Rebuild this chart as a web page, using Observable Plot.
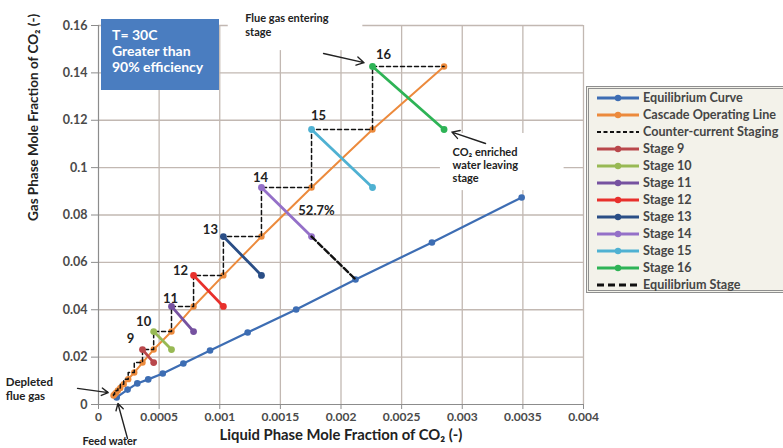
<!DOCTYPE html>
<html>
<head>
<meta charset="utf-8">
<script src="https://cdn.jsdelivr.net/npm/d3@7"></script>
<script src="https://cdn.jsdelivr.net/npm/@observablehq/plot@0.6"></script>
<style>
  html, body { margin: 0; padding: 0; background: #fff; }
  #wrap { position: relative; width: 783px; height: 448px; overflow: hidden; font-family: Lato, "Open Sans", sans-serif; }
  #wrap > svg { position: absolute; left: 0; top: 0; }
  #tbox { position: absolute; left: 101px; top: 19px; width: 118px; height: 71px; background: #4a7dc0; color: #fff;
          font-weight: bold; font-size: 14px; line-height: 16px; box-sizing: border-box; padding: 8px 0 0 11px; }
  #legend { position: absolute; left: 586px; top: 86px; width: 210px; height: 207px; background: #f3f2ea;
            border: 3px double #8f8f8f; box-sizing: border-box; padding: 0 0 0 7px; }
  .li { display: flex; align-items: center; height: 17px; font-size: 12.6px; font-weight: bold; color: #454545; white-space: nowrap; }
  .li svg { margin-right: 3px; flex: none; }
</style>
</head>
<body>
<div id="wrap"></div>
<script>
// ---- data ----
const xTicks = [0, 0.0005, 0.001, 0.0015, 0.002, 0.0025, 0.003, 0.0035, 0.004];
const xTickLabels = ["0", "0.0005", "0.001", "0.0015", "0.002", "0.0025", "0.003", "0.0035", "0.004"];
const yTicks = [0, 0.02, 0.04, 0.06, 0.08, 0.1, 0.12, 0.14, 0.16];
const yTickLabels = ["0", "0.02", "0.04", "0.06", "0.08", "0.1", "0.12", "0.14", "0.16"];

// Equilibrium curve
const eqX = [0.00015, 0.00024, 0.00032, 0.00041, 0.00053, 0.00070, 0.00092, 0.00123, 0.00163, 0.00212, 0.00275, 0.00349];
const eqY = [0.0030, 0.0063, 0.0089, 0.0106, 0.0131, 0.0173, 0.0228, 0.0304, 0.0401, 0.0528, 0.0684, 0.0874];

// Cascade operating line (stage points 0..16)
const opX = [0.000124, 0.000133, 0.000145, 0.000160, 0.000180, 0.000208, 0.000245, 0.000295, 0.000363, 0.000455, 0.000602, 0.000784, 0.00103, 0.001344, 0.001757, 0.00226, 0.00285];
const opY = [0.0038, 0.0043, 0.0050, 0.0059, 0.0070, 0.0086, 0.0107, 0.0135, 0.0177, 0.0232, 0.0308, 0.0414, 0.0545, 0.0709, 0.0916, 0.1161, 0.1427];

// Highlighted stages
const stageNums = [9, 10, 11, 12, 13, 14, 15, 16];
const stageColors = ["#b9474b", "#98b954", "#7652a0", "#e8302c", "#2a4e86", "#9470c8", "#4fb1d2", "#2eb356"];
const stageLabelDx = [-12, -10, -1, -13, -13, -1, 7, 11];
const stageLabelDy = [-11, -10, -8, -5, -7, -10, -14, -12];

const efficiencyLabel = "52.7%";
const boxLines = ["T= 30C", "Greater than", "90% efficiency"];
const legendItems = [
  {name: "Equilibrium Curve", color: "#3d6db3", kind: "dot"},
  {name: "Cascade Operating Line", color: "#ec8a3c", kind: "dot"},
  {name: "Counter-current Staging", color: "#111", kind: "thin"},
  ...stageNums.map((n, i) => ({name: "Stage " + n, color: stageColors[i], kind: "dot"})),
  {name: "Equilibrium Stage", color: "#111", kind: "thick"}
];

// ---- derived tables ----
const eqData = eqX.map((x, i) => ({x, y: eqY[i]}));
const opData = opX.map((x, i) => ({x, y: opY[i]}));
const stairData = [];
for (let k = 0; k < opX.length; k++) {
  if (k > 0) stairData.push({x: opX[k - 1], y: opY[k]});
  stairData.push({x: opX[k], y: opY[k]});
}
const stageData = [];
stageNums.forEach((n) => {
  stageData.push({stage: n, x: opX[n - 1], y: opY[n], end: "top"});
  stageData.push({stage: n, x: opX[n], y: opY[n - 1], end: "bottom"});
});
const stageTops = stageData.filter(d => d.end === "top");
const eqStage = [{x: opX[14], y: opY[13]}, {x: eqX[9], y: eqY[9]}];
const colorOf = Object.fromEntries(stageNums.map((n, i) => [n, stageColors[i]]));

const fmtX = d => xTickLabels[xTicks.indexOf(d)];
const fmtY = d => yTickLabels[yTicks.indexOf(d)];

const stageLabelMarks = stageTops.map((d, i) =>
  Plot.text([d], {x: "x", y: "y", text: d => String(d.stage), dx: stageLabelDx[i], dy: stageLabelDy[i],
    fontSize: 13, fill: "#222", fontWeight: "bold"}));

const chart = Plot.plot({
  width: 783, height: 448,
  marginLeft: 98, marginRight: 200, marginTop: 25, marginBottom: 44,
  x: {domain: [0, 0.004]},
  y: {domain: [0, 0.16]},
  style: {fontFamily: "Lato, 'Open Sans', sans-serif", fontWeight: "bold", background: "transparent", overflow: "visible"},
  marks: [
    Plot.gridX(xTicks.filter(d => d > 0), {stroke: "#c2b8b2", strokeOpacity: 1, strokeWidth: 1.3}),
    Plot.gridY(yTicks.filter(d => d > 0), {stroke: "#c2b8b2", strokeOpacity: 1, strokeWidth: 1.3}),
    // white backing for the annotation texts
    Plot.rect([0], {x1: 0.00107, x2: 0.00218, y1: 0.1494, y2: 0.175, fill: "white"}),
    Plot.rect([0], {x1: 0.00282, x2: 0.00384, y1: 0.0903, y2: 0.1144, fill: "white"}),
    Plot.ruleX([0], {stroke: "#8c8c8c", strokeWidth: 1.2}),
    Plot.ruleY([0], {stroke: "#8c8c8c", strokeWidth: 1.2}),
    Plot.axisX(xTicks, {tickSize: 5, tickPadding: 3, tickFormat: fmtX, fontSize: 12, stroke: "#8c8c8c", fill: "#4a4a4a", label: null}),
    Plot.axisY(yTicks, {tickSize: 7, tickPadding: 4, tickFormat: fmtY, fontSize: 12.5, stroke: "#8c8c8c", fill: "#4a4a4a", label: null}),
    // axis titles
    Plot.text(["Gas Phase Mole Fraction of CO\u2082 (-)"], {frameAnchor: "left", rotate: -90, dx: -65, dy: 6, fontSize: 13.5, fill: "#222", fontWeight: "bold"}),
    Plot.text(["Liquid Phase Mole Fraction of CO\u2082 (-)"], {frameAnchor: "bottom", dy: 35, fontSize: 14.8, fill: "#222", fontWeight: "bold"}),
    // equilibrium curve
    Plot.line(eqData, {x: "x", y: "y", stroke: "#3d6db3", strokeWidth: 2.2}),
    Plot.dot(eqData, {x: "x", y: "y", fill: "#3d6db3", r: 3.3}),
    // operating line
    Plot.line(opData, {x: "x", y: "y", stroke: "#ec8a3c", strokeWidth: 2}),
    Plot.dot(opData, {x: "x", y: "y", fill: "#ec8a3c", r: 3.2}),
    // counter-current staging
    Plot.line(stairData, {x: "x", y: "y", stroke: "#111", strokeWidth: 1.5, strokeDasharray: "4,3"}),
    // stages
    Plot.line(stageData, {x: "x", y: "y", z: "stage", stroke: d => colorOf[d.stage], strokeWidth: 2.8}),
    Plot.dot(stageData, {x: "x", y: "y", fill: d => colorOf[d.stage], r: 3.4}),
    // equilibrium stage
    Plot.line(eqStage, {x: "x", y: "y", stroke: "#111", strokeWidth: 2.4, strokeDasharray: "6,3"}),
    // stage labels
    ...stageLabelMarks,
    Plot.text([efficiencyLabel], {x: 0.001798, y: 0.0819, fontSize: 13, fill: "#222", fontWeight: "bold"}),
    // annotations
    Plot.text(["Flue gas entering\nstage"], {x: 0.00121, y: 0.1655, textAnchor: "start", lineAnchor: "top", lineHeight: 1.25, fontSize: 11, fill: "#222", fontWeight: "bold"}),
    Plot.arrow([0], {x1: 0.001856, y1: 0.1482, x2: 0.00219, y2: 0.1443, stroke: "#222", strokeWidth: 1.4, headLength: 9}),
    Plot.text(["CO\u2082 enriched\nwater leaving\nstage"], {x: 0.00292, y: 0.1085, textAnchor: "start", lineAnchor: "top", lineHeight: 1.15, fontSize: 11, fill: "#222", fontWeight: "bold"}),
    Plot.arrow([0], {x1: 0.003192, y1: 0.1102, x2: 0.002915, y2: 0.115, stroke: "#222", strokeWidth: 1.4, headLength: 9}),
    Plot.text(["Depleted\nflue gas"], {x: -0.000765, y: 0.0118, textAnchor: "start", lineAnchor: "top", lineHeight: 1.2, fontSize: 11.5, fill: "#222", fontWeight: "bold"}),
    Plot.arrow([0], {x1: -0.000173, y1: 0.0068, x2: 0.00008, y2: 0.005, stroke: "#222", strokeWidth: 1.4, headLength: 8}),
    Plot.text(["Feed water"], {x: -0.000132, y: -0.0158, textAnchor: "start", fontSize: 11, fill: "#222", fontWeight: "bold"}),
    Plot.arrow([0], {x1: 0.000239, y1: -0.0143, x2: 0.00016, y2: 0.0004, stroke: "#222", strokeWidth: 1.4, headLength: 8})
  ]
});

const wrap = document.getElementById("wrap");
wrap.appendChild(chart);

// Info box
const tbox = document.createElement("div");
tbox.id = "tbox";
tbox.innerHTML = boxLines.join("<br>");
wrap.appendChild(tbox);

// Legend
const legend = document.createElement("div");
legend.id = "legend";
legendItems.forEach(it => {
  const row = document.createElement("div");
  row.className = "li";
  const ns = "http://www.w3.org/2000/svg";
  const sw = document.createElementNS(ns, "svg");
  sw.setAttribute("width", 44); sw.setAttribute("height", 12);
  const ln = document.createElementNS(ns, "line");
  ln.setAttribute("y1", 6); ln.setAttribute("y2", 6);
  ln.setAttribute("stroke", it.color);
  ln.setAttribute("x1", 1); ln.setAttribute("x2", 43);
  if (it.kind === "dot") {
    ln.setAttribute("stroke-width", 2.8);
  } else if (it.kind === "thin") {
    ln.setAttribute("stroke-width", 1.8); ln.setAttribute("stroke-dasharray", "4,2.5");
  } else {
    ln.setAttribute("stroke-width", 2.8); ln.setAttribute("stroke-dasharray", "7,4");
  }
  sw.appendChild(ln);
  if (it.kind === "dot") {
    const c = document.createElementNS(ns, "circle");
    c.setAttribute("cx", 22); c.setAttribute("cy", 6); c.setAttribute("r", 3.2); c.setAttribute("fill", it.color);
    sw.appendChild(c);
  }
  row.appendChild(sw);
  const t = document.createElement("span");
  t.textContent = it.name;
  row.appendChild(t);
  legend.appendChild(row);
});
wrap.appendChild(legend);
</script>
</body>
</html>
